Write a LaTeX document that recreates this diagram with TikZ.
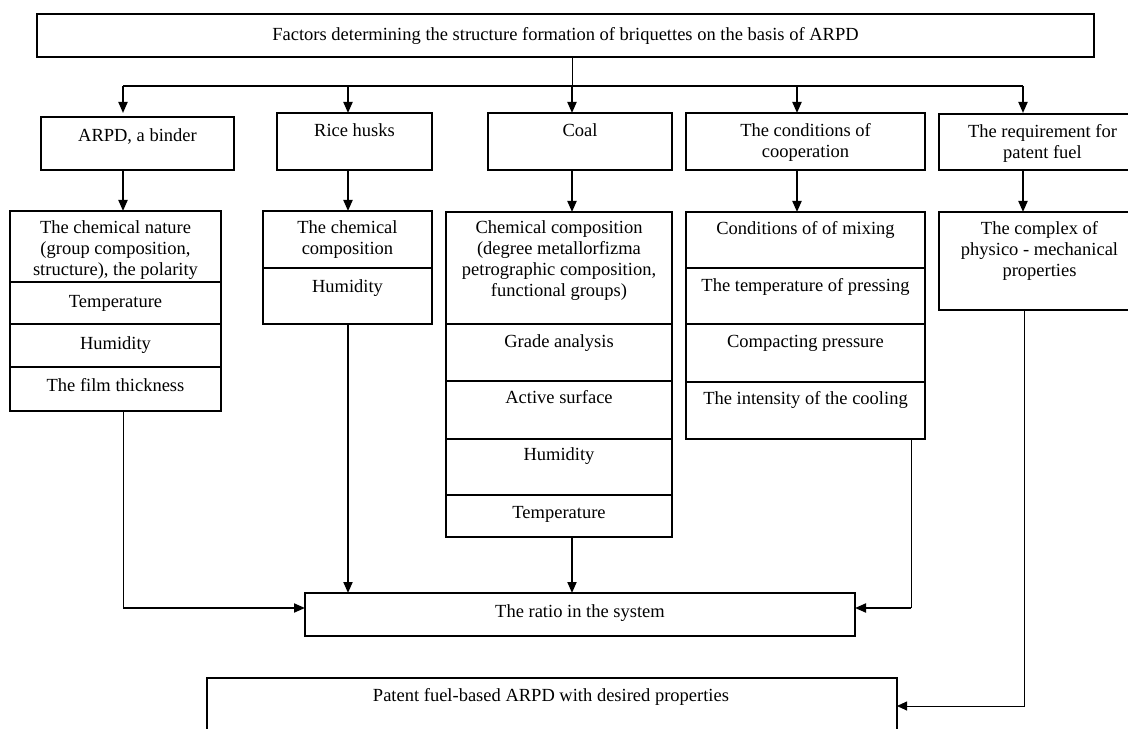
\documentclass[tikz,border=0pt]{standalone}
\usepackage{fontspec}
\setmainfont{Liberation Serif}
\usetikzlibrary{arrows.meta,calc}
\newcommand\lblfont{\fontsize{18.5bp}{21bp}\selectfont}
\newcommand\mkbox[5]{\node[boxst, minimum width={(#4-#2)*1bp}, minimum height={(#5-#3)*1bp}] (#1) at (#2,#3) {};}
\tikzset{
  boxst/.style={draw, line width=1.2bp, inner sep=0pt, outer sep=0pt, anchor=north west},
  lbl/.style={anchor=north, inner sep=0pt, align=center, font=\lblfont},
  arr/.style={line width=1.9bp, -{Triangle[length=11bp,width=9bp]}},
  thinln/.style={line width=0.9bp},
}
\begin{document}
\begin{tikzpicture}[x=1bp,y=-1bp]
\useasboundingbox (0,0) rectangle (1128,729);
\clip (0,0) rectangle (1128,729);
\fill[white] (0,0) rectangle (1128,729);
% top
\mkbox{T}{37}{14}{1094}{57}
\node[lbl] at ([yshift=-12bp]T.north) {\strut Factors determining the structure formation of briquettes on the basis of ARPD};
% row 1
\mkbox{A1}{41}{117}{234}{170}
\mkbox{B1}{277}{113}{432}{170}
\mkbox{C1}{488}{113}{672}{170}
\mkbox{D1}{686}{113}{925}{170}
\mkbox{E1}{939}{114}{1140}{170}
\node[lbl] at ([yshift=-10bp]A1.north) {\strut ARPD, a binder};
\node[lbl] at ([yshift=-9bp]B1.north) {\strut Rice husks};
\node[lbl] at ([yshift=-9bp]C1.north) {\strut Coal};
\node[lbl] at ([yshift=-9bp]D1.north) {\strut The conditions of\\cooperation};
\node[lbl] at ([xshift=3bp,yshift=-9bp]E1.north) {\strut The requirement for\\patent fuel};
% row 2 : ARPD stack
\mkbox{A2a}{10}{211}{221}{282}
\mkbox{A2b}{10}{282}{221}{324}
\mkbox{A2c}{10}{324}{221}{367}
\mkbox{A2d}{10}{367}{221}{411}
\node[lbl] at ([yshift=-8bp]A2a.north) {\strut The chemical nature\\(group composition,\\structure), the polarity};
\node[lbl] at ([yshift=-11bp]A2b.north) {\strut Temperature};
\node[lbl] at ([yshift=-11bp]A2c.north) {\strut Humidity};
\node[lbl] at ([yshift=-10bp]A2d.north) {\strut The film thickness};
% rice husks stack
\mkbox{B2a}{263}{211}{432}{268}
\mkbox{B2b}{263}{268}{432}{324}
\node[lbl] at ([yshift=-8bp]B2a.north) {\strut The chemical\\composition};
\node[lbl] at ([yshift=-10bp]B2b.north) {\strut Humidity};
% coal stack
\mkbox{C2a}{446}{212}{672}{324}
\mkbox{C2b}{446}{324}{672}{381}
\mkbox{C2c}{446}{381}{672}{439}
\mkbox{C2d}{446}{439}{672}{495}
\mkbox{C2e}{446}{495}{672}{537}
\node[lbl] at ([yshift=-7bp]C2a.north) {\strut Chemical composition\\(degree metallorfizma\\petrographic composition,\\functional groups)};
\node[lbl] at ([yshift=-9bp]C2b.north) {\strut Grade analysis};
\node[lbl] at ([yshift=-8bp]C2c.north) {\strut Active surface};
\node[lbl] at ([yshift=-7bp]C2d.north) {\strut Humidity};
\node[lbl] at ([yshift=-9bp]C2e.north) {\strut Temperature};
% conditions stack
\mkbox{D2a}{686}{212}{925}{268}
\mkbox{D2b}{686}{268}{925}{324}
\mkbox{D2c}{686}{324}{925}{382}
\mkbox{D2d}{686}{382}{925}{439}
\node[lbl] at ([yshift=-8bp]D2a.north) {\strut Conditions of of mixing};
\node[lbl] at ([yshift=-9bp]D2b.north) {\strut The temperature of pressing};
\node[lbl] at ([yshift=-9bp]D2c.north) {\strut Compacting pressure};
\node[lbl] at ([yshift=-8bp]D2d.north) {\strut The intensity of the cooling};
% requirement
\mkbox{E2}{939}{212}{1140}{310}
\node[lbl] at ([yshift=-8bp]E2.north) {\strut The complex of\\physico - mechanical\\properties};
% ratio and result
\mkbox{R}{305}{593}{855}{636}
\node[lbl] at ([yshift=-10bp]R.north) {\strut The ratio in the system};
\mkbox{P}{207}{678}{897}{770}
\node[lbl] at ([xshift=-1bp,yshift=-9bp]P.north) {\strut Patent fuel-based ARPD with desired properties};
% bus
\coordinate (ka) at (123,86);
\coordinate (kb) at (348,86);
\coordinate (kc) at (572,86);
\coordinate (kd) at (797,86);
\coordinate (ke) at (1023,86);
\draw[thinln] (T.south -| kc) -- (kc);
\draw[line width=1.4bp] (ka) -- (ke);
\foreach \k in {ka,kb,kc,kd,ke} \draw[arr] (\k) -- (\k |- B1.north);
% row1 -> row2
\draw[arr] (A1.south -| ka) -- (ka |- A2a.north);
\draw[arr] (B1.south -| kb) -- (kb |- B2a.north);
\draw[arr] (C1.south -| kc) -- (kc |- C2a.north);
\draw[arr] (D1.south -| kd) -- (kd |- D2a.north);
\draw[arr] (E1.south -| ke) -- (ke |- E2.north);
% to ratio
\coordinate (ra) at (123,608);
\draw[thinln] (A2d.south -| ra) -- (ra);
\draw[arr] (ra) -- (R.west |- ra);
\draw[arr] (B2b.south -| kb) -- (kb |- R.north);
\draw[arr] (C2e.south -| kc) -- (kc |- R.north);
\coordinate (rd) at (911,608);
\draw[thinln] (D2d.south -| rd) -- (rd);
\draw[arr] (rd) -- (R.east |- rd);
% to result
\coordinate (pe) at (1024,706);
\draw[thinln, -{Triangle[length=10bp,width=9bp]}] (E2.south -| pe) -- (pe) -- (P.east |- pe);
\end{tikzpicture}
\end{document}
